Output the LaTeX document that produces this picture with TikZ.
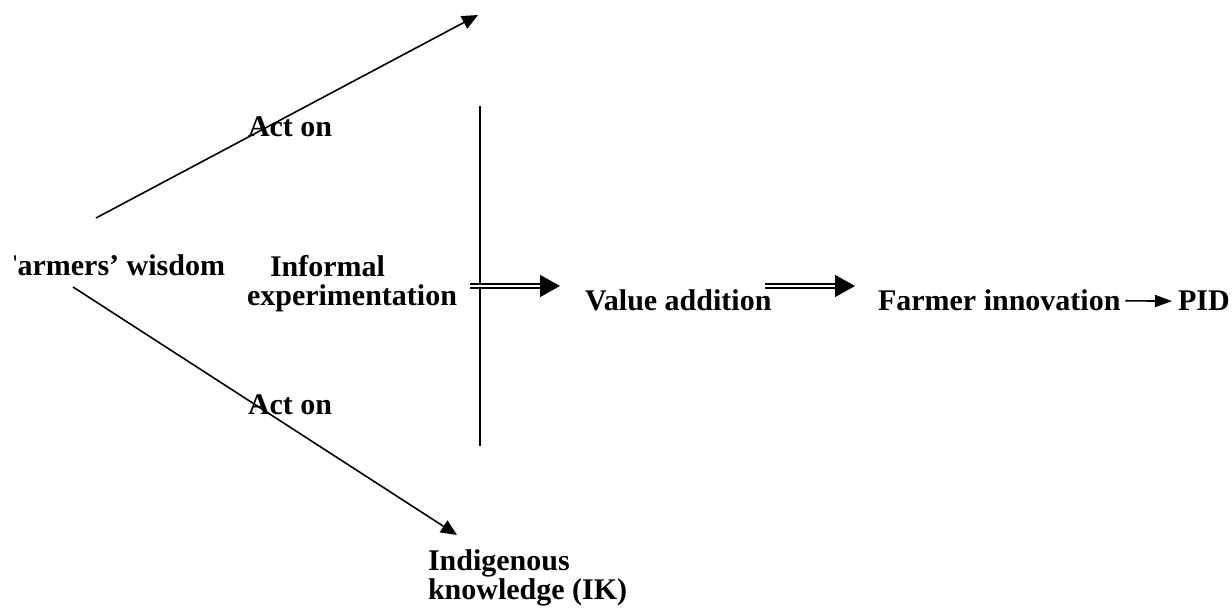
\documentclass[tikz,border=0pt]{standalone}
\usepackage{fontspec}
\setmainfont{Liberation Serif}
\usetikzlibrary{arrows.meta}

\begin{document}
\begin{tikzpicture}[
  x = 0.5pt,
  y = -0.5pt,
  word/.style = {
    font = \fontsize{15}{14.5}\selectfont\bfseries,
    inner sep = 0pt,
    outer sep = 0pt,
    align = left
  },
  line/.style = {
    line width = 0.8pt
  },
  arrow/.style = {
    line width = 0.8pt,
    -{Triangle[length = 8pt, width = 7pt]}
  },
  twin/.style = {
    double,
    double distance = 1.4pt,
    line width = 0.75pt,
    -{Triangle[length = 10pt, width = 11pt]}
  }
]
  \useasboundingbox (0, 0) rectangle (1232, 608);

  % the text box of the first label cuts off its left edge
  \begin{scope}
    \clip (14, 0) rectangle (1232, 608);
    \node[word, anchor = base east] (wisdom) at (225, 276) {Farmers' wisdom};
  \end{scope}
  \node[word, anchor = base west] (experiment) at (247, 306)
    {\hspace*{11.5pt}Informal\\experimentation};
  \node[word, anchor = base west] (value) at (585, 311) {Value addition};
  \node[word, anchor = base west] (innovation) at (878, 311) {Farmer innovation};
  \node[word, anchor = base west] (pid) at (1178, 311) {PID};
  \node[word, anchor = base west] (ik) at (428, 600) {Indigenous\\knowledge (IK)};

  \node[word, anchor = base west] (acton1) at (248, 137) {Act on};
  \node[word, anchor = base west] (acton2) at (248, 415) {Act on};

  \coordinate (upstart) at (96, 218);
  \coordinate (upend) at (478, 15);
  \coordinate (downstart) at (73, 287);
  \coordinate (downend) at (457, 535);
  \coordinate (bartop) at (480, 106);
  \coordinate (barbottom) at (480, 446);
  \coordinate (twin1a) at (470, 286);
  \coordinate (twin1b) at (560, 286);
  \coordinate (twin2a) at (765, 286);
  \coordinate (twin2b) at (855, 286);

  \draw[arrow] (upstart) -- (upend);
  \draw[arrow] (downstart) -- (downend);
  \draw[line] (bartop) -- (barbottom);

  \draw[twin] (twin1a) -- (twin1b);
  \draw[twin] (twin2a) -- (twin2b);
  \draw[arrow, -{Triangle[length = 8.5pt, width = 6pt]},
    shorten <= 2.5pt, shorten >= 3pt] (innovation.east) -- (pid.west);
\end{tikzpicture}
\end{document}
